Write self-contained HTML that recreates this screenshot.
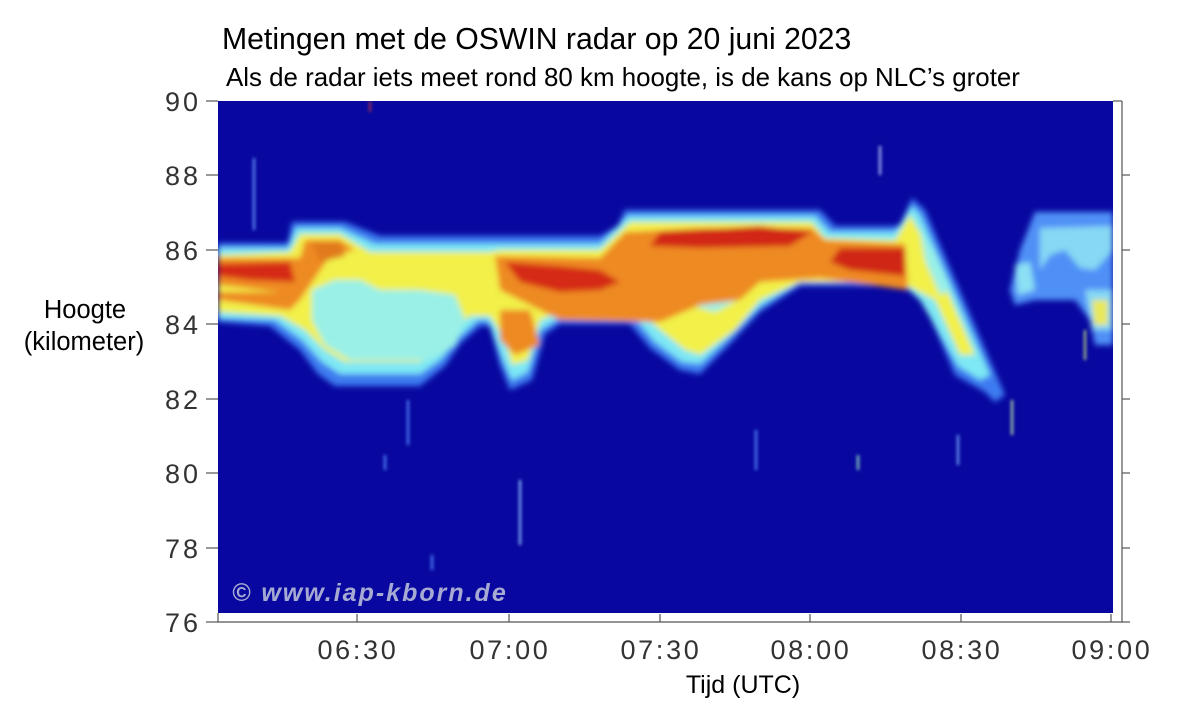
<!DOCTYPE html>
<html><head><meta charset="utf-8"><style>
body{margin:0;background:#fff;width:1200px;height:710px;overflow:hidden;font-family:"Liberation Sans",sans-serif}
</style></head><body>
<svg width="1200" height="710" viewBox="0 0 1200 710" xmlns="http://www.w3.org/2000/svg" font-family="Liberation Sans, sans-serif">
<defs>
<filter id="b" x="-5%" y="-5%" width="110%" height="110%"><feGaussianBlur stdDeviation="3"/></filter>
<filter id="b2"><feGaussianBlur stdDeviation="1.5"/></filter>
<clipPath id="c"><rect x="218" y="101" width="895" height="512"/></clipPath>
</defs>
<text x="222" y="49" font-size="30.2" fill="#000">Metingen met de OSWIN radar op 20 juni 2023</text>
<text x="226" y="86" font-size="25.9" fill="#000">Als de radar iets meet rond 80 km hoogte, is de kans op NLC’s groter</text>
<rect x="218" y="101" width="895" height="512" fill="#0808a0"/>
<g clip-path="url(#c)">
<g filter="url(#b)">
<polygon fill="#3c7cf0" points="218,243 288,243 292,222 345,222 380,236 490,236 600,236 618,226 625,210 820,210 835,226 900,226 912,198 925,210 1005,395 995,402 985,392 955,375 925,305 905,286 800,286 760,312 730,344 700,374 680,370 650,348 630,324 560,324 545,334 532,380 510,390 500,365 490,326 480,326 460,344 445,366 420,386 335,386 318,374 300,350 270,326 218,322"/>
<polygon fill="#7ee8f4" points="218,248 288,248 296,228 340,228 375,244 600,244 628,216 815,216 830,232 895,232 912,206 920,215 990,375 980,380 958,366 920,300 900,282 800,282 760,306 728,338 700,364 682,362 655,342 635,318 560,318 540,330 528,372 512,380 502,358 488,320 478,320 458,338 440,360 420,374 340,374 322,362 302,340 275,320 218,318"/>
<polygon fill="#f2f04a" points="218,255 290,252 300,234 340,234 370,252 490,252 500,250 600,250 630,222 812,222 825,238 895,240 910,215 930,250 960,320 975,355 960,355 935,300 900,282 800,282 760,300 735,330 700,355 685,350 660,330 640,312 560,312 540,320 528,360 512,365 505,340 490,316 470,316 455,330 440,350 420,362 345,362 325,350 305,330 280,316 218,312"/>
<polygon fill="#9af0e6" points="312,290 335,280 360,280 380,290 420,290 455,295 465,320 455,345 430,360 350,360 325,345 312,320"/>
<polygon fill="#9af0e6" points="680,262 700,250 730,255 745,275 738,300 715,312 690,305 678,285"/>
<polygon fill="#9af0e6" points="920,230 935,255 950,290 940,295 925,260"/>
<polygon fill="#ee8a22" points="218,258 300,258 305,240 340,240 355,250 330,256 300,300 290,310 218,300 218,292 280,292 218,285"/>
<polygon fill="#ee8a22" points="495,256 600,258 625,232 700,228 812,228 825,240 905,244 908,290 820,278 760,282 740,300 700,305 660,322 560,320 540,310 500,290"/>
<polygon fill="#ee8a22" points="500,310 530,310 540,345 515,355 500,340"/>
<polygon fill="#d52a12" points="218,264 290,262 295,282 250,280 218,276"/>
<polygon fill="#d52a12" points="505,262 560,266 600,270 620,282 600,290 560,292 520,282"/>
<polygon fill="#d22812" points="660,232 760,226 812,232 790,246 700,248 650,246"/>
<polygon fill="#d02512" points="840,248 905,248 905,276 850,270 830,262"/>
<polygon fill="#e07a1e" points="312,242 340,242 345,256 320,262"/>
<polygon fill="#4f90f6" points="1010,290 1020,250 1035,212 1113,212 1113,345 1095,345 1090,320 1075,300 1050,300 1035,300 1015,305"/>
<polygon fill="#86d8f4" points="1040,228 1113,226 1113,250 1095,270 1080,268 1065,250 1050,255 1040,270"/>
<polygon fill="#86d8f4" points="1085,290 1113,290 1113,330 1092,330"/>
<polygon fill="#e9e85a" points="1092,300 1108,300 1108,325 1094,325"/>
<polygon fill="#8ce0f4" points="1015,265 1030,262 1035,290 1018,295"/>
</g>
<g filter="url(#b2)" stroke-width="2">
<line x1="254" y1="158" x2="254" y2="230" stroke="#6aa0ff"/>
<line x1="880" y1="146" x2="880" y2="175" stroke="#c0d0ff"/>
<line x1="408" y1="400" x2="408" y2="445" stroke="#5a90ff"/>
<line x1="520" y1="480" x2="520" y2="545" stroke="#9ad0ff"/>
<line x1="432" y1="555" x2="432" y2="570" stroke="#5a90ff"/>
<line x1="858" y1="455" x2="858" y2="470" stroke="#a0f0c0"/>
<line x1="1012" y1="400" x2="1012" y2="435" stroke="#c0f0a0"/>
<line x1="958" y1="435" x2="958" y2="465" stroke="#7ab0ff"/>
<line x1="756" y1="430" x2="756" y2="470" stroke="#5a90ff"/>
<line x1="385" y1="455" x2="385" y2="470" stroke="#5a90ff"/>
<line x1="1085" y1="330" x2="1085" y2="360" stroke="#c0e080"/>
<line x1="370" y1="101" x2="370" y2="112" stroke="#b03040"/>
</g>
<text x="232" y="601" font-size="25" font-weight="bold" font-style="italic" fill="#b8bcd8" opacity="0.9" letter-spacing="2">© www.iap-kborn.de</text>
</g>
<g stroke="#555" stroke-width="1.2" fill="none">
<polyline points="1122,101 1122,622 218,622 218,613"/>
<line x1="1122" y1="101" x2="1113" y2="101"/>
<line x1="206" y1="101" x2="218" y2="101"/>
<line x1="206" y1="175" x2="218" y2="175"/>
<line x1="206" y1="250" x2="218" y2="250"/>
<line x1="206" y1="324" x2="218" y2="324"/>
<line x1="206" y1="399" x2="218" y2="399"/>
<line x1="206" y1="473" x2="218" y2="473"/>
<line x1="206" y1="548" x2="218" y2="548"/>
<line x1="206" y1="622" x2="218" y2="622"/>
<line x1="1122" y1="175" x2="1130" y2="175"/><line x1="1122" y1="250" x2="1130" y2="250"/><line x1="1122" y1="324" x2="1130" y2="324"/><line x1="1122" y1="399" x2="1130" y2="399"/><line x1="1122" y1="473" x2="1130" y2="473"/><line x1="1122" y1="548" x2="1130" y2="548"/><line x1="1122" y1="622" x2="1130" y2="622"/>
<line x1="357" y1="622" x2="357" y2="614"/><line x1="509" y1="622" x2="509" y2="614"/><line x1="660" y1="622" x2="660" y2="614"/><line x1="810" y1="622" x2="810" y2="614"/><line x1="961" y1="622" x2="961" y2="614"/><line x1="1111" y1="622" x2="1111" y2="614"/>
</g>
<g font-size="27" fill="#333" text-anchor="end" letter-spacing="3">
<text x="201" y="111">90</text><text x="201" y="185">88</text><text x="201" y="260">86</text><text x="201" y="334">84</text><text x="201" y="409">82</text><text x="201" y="483">80</text><text x="201" y="558">78</text><text x="201" y="632">76</text>
</g>
<g font-size="27" fill="#333" text-anchor="middle" letter-spacing="2.7">
<text x="358" y="659">06:30</text><text x="510" y="659">07:00</text><text x="661" y="659">07:30</text><text x="811" y="659">08:00</text><text x="962" y="659">08:30</text><text x="1112" y="659">09:00</text>
</g>
<text x="85" y="318" font-size="25.5" text-anchor="middle">Hoogte</text>
<text x="84" y="350" font-size="25.5" text-anchor="middle">(kilometer)</text>
<text x="743" y="693" font-size="25" text-anchor="middle">Tijd (UTC)</text>
</svg>
</body></html>
